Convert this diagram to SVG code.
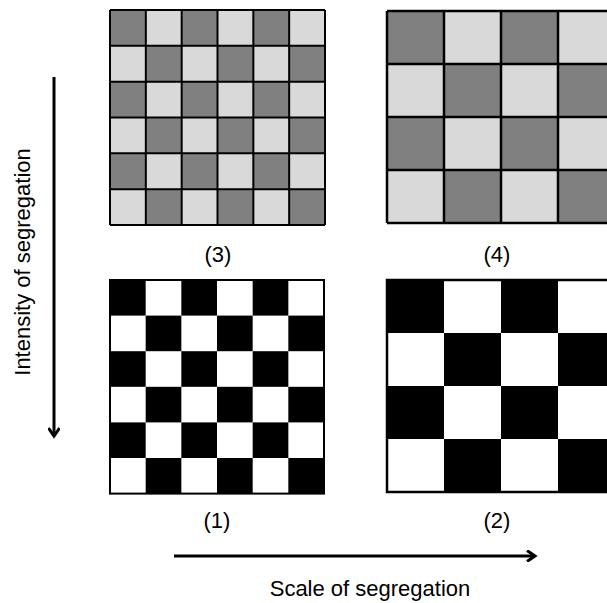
<svg xmlns="http://www.w3.org/2000/svg" width="607" height="603" viewBox="0 0 607 603">
<defs>
<style>
.d{fill:#808080}.l{fill:#d9d9d9}.b{fill:#000}.w{fill:#fff}
.gl{stroke:#000;stroke-width:2;fill:none}
.t{font-family:"Liberation Sans",Arial,sans-serif;font-size:22px;fill:#000}
.ar{stroke:#000;stroke-width:3;fill:none}
</style>
<marker id="ah" markerWidth="12" markerHeight="12" refX="9" refY="6" orient="auto" markerUnits="userSpaceOnUse">
<path d="M1,0.5 L9,6 L1,11.5" stroke="#000" stroke-width="3" fill="none"/>
</marker>
</defs>
<rect width="607" height="603" fill="#fff"/>

<g id="grid3">
<rect class="l" x="110" y="10" width="215" height="215"/>
<rect class="d" x="110" y="10" width="35.83" height="35.83"/><rect class="d" x="181.67" y="10" width="35.83" height="35.83"/><rect class="d" x="253.33" y="10" width="35.83" height="35.83"/>
<rect class="d" x="145.83" y="45.83" width="35.83" height="35.83"/><rect class="d" x="217.5" y="45.83" width="35.83" height="35.83"/><rect class="d" x="289.17" y="45.83" width="35.83" height="35.83"/>
<rect class="d" x="110" y="81.67" width="35.83" height="35.83"/><rect class="d" x="181.67" y="81.67" width="35.83" height="35.83"/><rect class="d" x="253.33" y="81.67" width="35.83" height="35.83"/>
<rect class="d" x="145.83" y="117.5" width="35.83" height="35.83"/><rect class="d" x="217.5" y="117.5" width="35.83" height="35.83"/><rect class="d" x="289.17" y="117.5" width="35.83" height="35.83"/>
<rect class="d" x="110" y="153.33" width="35.83" height="35.83"/><rect class="d" x="181.67" y="153.33" width="35.83" height="35.83"/><rect class="d" x="253.33" y="153.33" width="35.83" height="35.83"/>
<rect class="d" x="145.83" y="189.17" width="35.83" height="35.83"/><rect class="d" x="217.5" y="189.17" width="35.83" height="35.83"/><rect class="d" x="289.17" y="189.17" width="35.83" height="35.83"/>
<path class="gl" d="M110,10V225M145.83,10V225M181.67,10V225M217.5,10V225M253.33,10V225M289.17,10V225M325,10V225M110,10H325M110,45.83H325M110,81.67H325M110,117.5H325M110,153.33H325M110,189.17H325M110,225H325"/>
</g>

<g id="grid4">
<rect class="l" x="387" y="11" width="228" height="212"/>
<rect class="d" x="387" y="11" width="57" height="53"/><rect class="d" x="501" y="11" width="57" height="53"/>
<rect class="d" x="444" y="64" width="57" height="53"/><rect class="d" x="558" y="64" width="57" height="53"/>
<rect class="d" x="387" y="117" width="57" height="53"/><rect class="d" x="501" y="117" width="57" height="53"/>
<rect class="d" x="444" y="170" width="57" height="53"/><rect class="d" x="558" y="170" width="57" height="53"/>
<path class="gl" style="stroke-width:2.5" d="M387,11V223M444,11V223M501,11V223M558,11V223M387,11H615M387,64H615M387,117H615M387,170H615M387,223H615"/>
</g>

<g id="grid1">
<rect class="w" x="110" y="280" width="214" height="213.6"/>
<rect class="b" x="110" y="280" width="35.67" height="35.6"/><rect class="b" x="181.33" y="280" width="35.67" height="35.6"/><rect class="b" x="252.67" y="280" width="35.67" height="35.6"/>
<rect class="b" x="145.67" y="315.6" width="35.67" height="35.6"/><rect class="b" x="217" y="315.6" width="35.67" height="35.6"/><rect class="b" x="288.33" y="315.6" width="35.67" height="35.6"/>
<rect class="b" x="110" y="351.2" width="35.67" height="35.6"/><rect class="b" x="181.33" y="351.2" width="35.67" height="35.6"/><rect class="b" x="252.67" y="351.2" width="35.67" height="35.6"/>
<rect class="b" x="145.67" y="386.8" width="35.67" height="35.6"/><rect class="b" x="217" y="386.8" width="35.67" height="35.6"/><rect class="b" x="288.33" y="386.8" width="35.67" height="35.6"/>
<rect class="b" x="110" y="422.4" width="35.67" height="35.6"/><rect class="b" x="181.33" y="422.4" width="35.67" height="35.6"/><rect class="b" x="252.67" y="422.4" width="35.67" height="35.6"/>
<rect class="b" x="145.67" y="458" width="35.67" height="35.6"/><rect class="b" x="217" y="458" width="35.67" height="35.6"/><rect class="b" x="288.33" y="458" width="35.67" height="35.6"/>
<rect class="gl" x="110" y="280" width="214" height="213.6"/>
</g>

<g id="grid2">
<rect class="w" x="387" y="280" width="228" height="212"/>
<rect class="b" x="387" y="280" width="57" height="53"/><rect class="b" x="501" y="280" width="57" height="53"/>
<rect class="b" x="444" y="333" width="57" height="53"/><rect class="b" x="558" y="333" width="57" height="53"/>
<rect class="b" x="387" y="386" width="57" height="53"/><rect class="b" x="501" y="386" width="57" height="53"/>
<rect class="b" x="444" y="439" width="57" height="53"/><rect class="b" x="558" y="439" width="57" height="53"/>
<rect class="gl" style="stroke-width:2.5" x="387" y="280" width="228" height="212"/>
</g>

<g id="labels">
<text class="t" x="218" y="262" text-anchor="middle">(3)</text>
<text class="t" x="497" y="262" text-anchor="middle">(4)</text>
<text class="t" x="217" y="528" text-anchor="middle">(1)</text>
<text class="t" x="497" y="528" text-anchor="middle">(2)</text>
<text class="t" x="370" y="596" text-anchor="middle">Scale of segregation</text>
<text class="t" transform="translate(30,262) rotate(-90)" text-anchor="middle">Intensity of segregation</text>
</g>

<g id="connectors">
<line class="ar" x1="54" y1="77" x2="54" y2="436" marker-end="url(#ah)"/>
<line class="ar" x1="174" y1="556" x2="535" y2="556" marker-end="url(#ah)"/>
</g>
</svg>
